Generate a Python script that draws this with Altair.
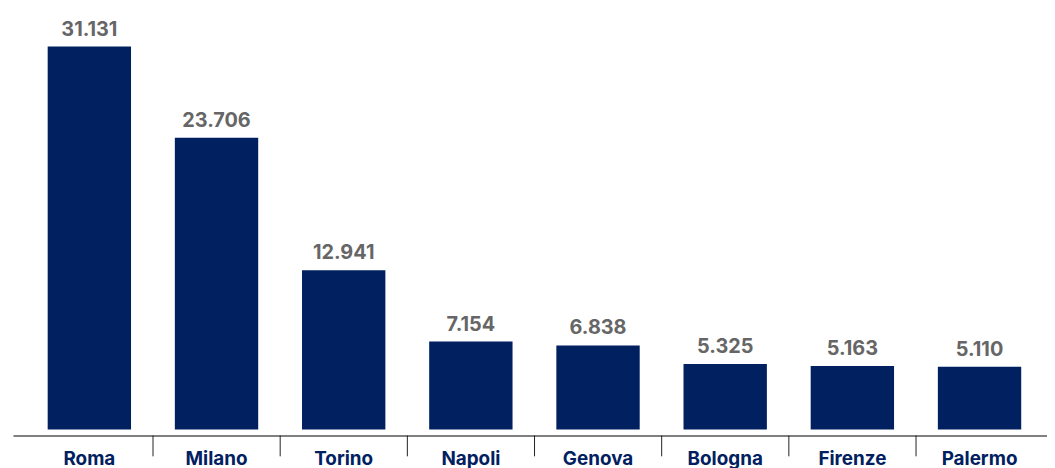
import altair as alt
import pandas as pd

cities = ["Roma", "Milano", "Torino", "Napoli", "Genova", "Bologna", "Firenze", "Palermo"]
values = [31131, 23706, 12941, 7154, 6838, 5325, 5163, 5110]
value_labels = ["31.131", "23.706", "12.941", "7.154", "6.838", "5.325", "5.163", "5.110"]

df = pd.DataFrame({"city": cities, "value": values, "label": value_labels})

NAVY = "#002060"
x_scale = alt.Scale(domain=cities, paddingInner=0.3445, paddingOuter=0.273)
y_scale = alt.Scale(domain=[0, 34115], nice=False, zero=True)

base = alt.Chart(df)

bars = base.mark_bar(color=NAVY).encode(
    x=alt.X(
        "city:N",
        scale=x_scale,
        axis=alt.Axis(
            title=None,
            labelAngle=0,
            ticks=False,
            domainColor="#808080",
            domainWidth=2,
            offset=6,
            labelFont="Inter",
            labelFontSize=19,
            labelFontWeight="bold",
            labelColor=NAVY,
            labelPadding=14,
            labelBaseline="top",
            labelOverlap=False,
        ),
    ),
    y=alt.Y("value:Q", scale=y_scale, axis=None),
)

text = base.mark_text(
    dy=-11, baseline="alphabetic", font="Inter", fontSize=20, fontWeight="bold", color="#666666"
).encode(
    x=alt.X("city:N", scale=x_scale),
    y=alt.Y("value:Q", scale=y_scale),
    text="label:N",
)

ticks = base.transform_filter(alt.datum.city != "Roma").mark_rule(
    color="#222222", strokeWidth=1, xOffset=-22
).encode(
    x=alt.X("city:N", scale=x_scale, bandPosition=0),
    y=alt.value(429),
    y2=alt.value(450),
)

chart = (
    alt.layer(bars, text, ticks)
    .properties(
        width=1051,
        height=423,
        autosize="none",
        padding={"left": 5, "top": 0, "right": -9, "bottom": 37},
    )
    .configure_view(stroke=None)
)

chart.save("out.html", embed_options={"renderer": "svg", "actions": False})
